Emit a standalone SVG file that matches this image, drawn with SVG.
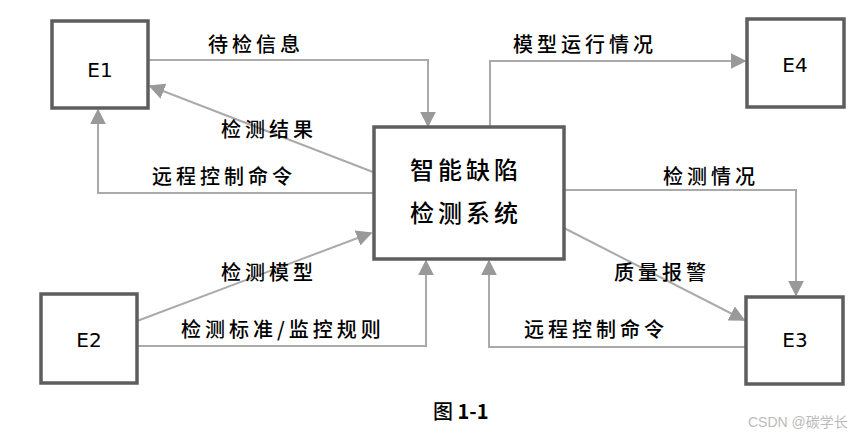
<svg xmlns="http://www.w3.org/2000/svg" width="865" height="436" viewBox="0 0 865 436">
<defs>
<marker id="arr" viewBox="0 0 10 10" refX="9" refY="5" markerWidth="16" markerHeight="16" markerUnits="userSpaceOnUse" orient="auto">
<path d="M0,0 L10,5 L0,10 z" fill="#999"/>
</marker>
<style>
.box{fill:#fff;stroke:#5e5e5e;stroke-width:3.5}
.c{fill:none;stroke:#aaa;stroke-width:2;marker-end:url(#arr)}
.lbl{font-family:"Noto Sans CJK SC","DejaVu Sans",sans-serif;font-size:20px;font-weight:500;letter-spacing:4px;fill:#000}
.e{font-family:"DejaVu Sans",sans-serif;font-size:20px;fill:#000;text-anchor:middle}
.big{font-family:"Noto Sans CJK SC",sans-serif;font-size:24px;font-weight:500;letter-spacing:4px;fill:#000}
</style>
</defs>
<rect width="865" height="436" fill="#fff"/>
<g id="connectors">
<path class="c" d="M148,60 H428 V126"/>
<path class="c" d="M373,172 L150,86"/>
<path class="c" d="M373,193 H98 V110"/>
<path class="c" d="M490,127 V61 H745"/>
<path class="c" d="M564,190 H796 V295"/>
<path class="c" d="M564,228 L744,320"/>
<path class="c" d="M746,347 H489 V261"/>
<path class="c" d="M137,321 L371,233"/>
<path class="c" d="M137,346 H426 V261"/>
</g>
<g id="labels">
<text class="lbl" x="208" y="52">待检信息</text>
<text class="lbl" x="221" y="137">检测结果</text>
<text class="lbl" x="152" y="184">远程控制命令</text>
<text class="lbl" x="513" y="52">模型运行情况</text>
<text class="lbl" x="663" y="184">检测情况</text>
<text class="lbl" x="614" y="280">质量报警</text>
<text class="lbl" x="524" y="337">远程控制命令</text>
<text class="lbl" x="221" y="280">检测模型</text>
<text class="lbl" x="181" y="337">检测标准/监控规则</text>
</g>
<g id="E1"><rect class="box" x="52" y="21" width="96" height="87"/><text class="e" x="100" y="77">E1</text></g>
<g id="E4"><rect class="box" x="747" y="19" width="97" height="88"/><text class="e" x="795" y="72">E4</text></g>
<g id="E2"><rect class="box" x="41" y="294" width="96" height="89"/><text class="e" x="89" y="347">E2</text></g>
<g id="E3"><rect class="box" x="746" y="297" width="97" height="87"/><text class="e" x="795" y="347">E3</text></g>
<g id="system"><rect class="box" x="374" y="127" width="190" height="132"/>
<text class="big" x="410" y="179">智能缺陷</text>
<text class="big" x="410" y="222">检测系统</text></g>
<text x="433" y="419" font-family="Noto Sans CJK SC,DejaVu Sans,sans-serif" font-size="20" font-weight="500" fill="#000">图 <tspan font-weight="700">1-1</tspan></text>
<text x="748" y="427" font-family="Liberation Sans,Noto Sans CJK SC,sans-serif" font-size="14" fill="#bbb">CSDN @碳学长</text>
</svg>
